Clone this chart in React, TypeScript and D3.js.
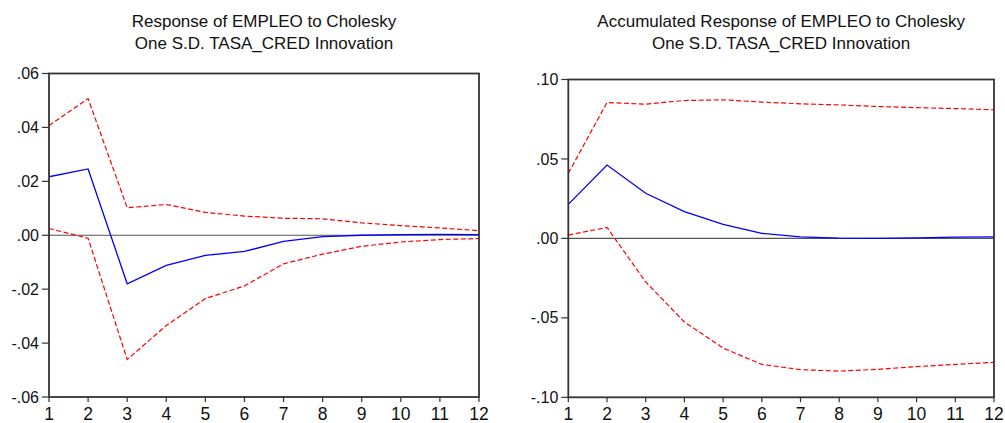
import React from 'react'
import * as d3 from 'd3'

// periods 1..12
const periods = [1, 2, 3, 4, 5, 6, 7, 8, 9, 10, 11, 12]

// Response of EMPLEO to TASA_CRED
const response = [0.0217, 0.0246, -0.018, -0.0112, -0.0075, -0.006, -0.0023, -0.0005, 0.0, 0.0002, 0.0003, 0.0002]
const responseUpper = [0.0407, 0.0507, 0.0102, 0.0114, 0.0085, 0.0071, 0.0063, 0.0061, 0.0046, 0.0036, 0.0027, 0.0017]
const responseLower = [0.0025, -0.0011, -0.0461, -0.0335, -0.0235, -0.0188, -0.0106, -0.007, -0.0041, -0.0025, -0.0016, -0.0012]

// Accumulated response
const accum = [0.0214, 0.0462, 0.0284, 0.0168, 0.0088, 0.0032, 0.001, 0.0002, 0.0, 0.0003, 0.0008, 0.001]
const accumUpper = [0.041, 0.0855, 0.0845, 0.0868, 0.0872, 0.0858, 0.0847, 0.084, 0.083, 0.0823, 0.0817, 0.0809]
const accumLower = [0.0021, 0.0069, -0.0274, -0.0526, -0.069, -0.0793, -0.0826, -0.0835, -0.0824, -0.0807, -0.0793, -0.078]

const leftTicks = [0.06, 0.04, 0.02, 0, -0.02, -0.04, -0.06]
const leftTickLabels = ['.06', '.04', '.02', '.00', '-.02', '-.04', '-.06']
const rightTicks = [0.1, 0.05, 0, -0.05, -0.1]
const rightTickLabels = ['.10', '.05', '.00', '-.05', '-.10']

const FONT = '"Liberation Sans", Arial, sans-serif'

type PanelProps = {
  title: string[]
  left: number
  right: number
  top: number
  bottom: number
  domain: [number, number]
  ticks: number[]
  tickLabels: string[]
  mid: number[]
  upper: number[]
  lower: number[]
}

function Panel({ title, left, right, top, bottom, domain, ticks, tickLabels, mid, upper, lower }: PanelProps) {
  const x = d3.scaleLinear().domain([1, 12]).range([left, right])
  const y = d3.scaleLinear().domain(domain).range([bottom, top])
  const line = (vals: number[]) =>
    d3.line<number>().x((_, i) => x(periods[i])).y((d) => y(d))(vals) || ''
  const cx = (left + right) / 2

  return (
    <g>
      <text x={cx} y={27} textAnchor="middle" fontSize={17} fontFamily={FONT} fill="#111">{title[0]}</text>
      <text x={cx} y={49} textAnchor="middle" fontSize={17} fontFamily={FONT} fill="#111">{title[1]}</text>

      <line x1={left} x2={right} y1={y(0)} y2={y(0)} stroke="#555" strokeWidth={1.2} />
      <path d={line(upper)} fill="none" stroke="#ff0000" strokeWidth={1.2} strokeDasharray="5,2.5" />
      <path d={line(lower)} fill="none" stroke="#ff0000" strokeWidth={1.2} strokeDasharray="5,2.5" />
      <path d={line(mid)} fill="none" stroke="#0000ff" strokeWidth={1.3} />

      <rect x={left} y={top} width={right - left} height={bottom - top} fill="none" stroke="#333" strokeWidth={1.8} />

      {ticks.map((t, i) => (
        <g key={'y' + i}>
          <line x1={left - 7} x2={left} y1={y(t)} y2={y(t)} stroke="#333" strokeWidth={1.2} />
          <text x={left - 10} y={y(t)} dy="0.35em" textAnchor="end" fontSize={16} fontFamily={FONT} fill="#111">{tickLabels[i]}</text>
        </g>
      ))}
      {periods.map((p) => (
        <g key={'x' + p}>
          <line x1={x(p)} x2={x(p)} y1={bottom} y2={bottom + 5} stroke="#333" strokeWidth={1.2} />
          <text x={x(p)} y={bottom + 23} textAnchor="middle" fontSize={17.5} fontFamily={FONT} fill="#111">{p}</text>
        </g>
      ))}
    </g>
  )
}

export default function App() {
  return (
    <svg width={1005} height={423} style={{ position: 'absolute', left: 0, top: 0, background: '#fff' }}>
      <rect width={1005} height={423} fill="#fff" />
      <Panel
        title={['Response of EMPLEO to Cholesky', 'One S.D. TASA_CRED Innovation']}
        left={49} right={479} top={73.5} bottom={397}
        domain={[-0.06, 0.06]}
        ticks={leftTicks} tickLabels={leftTickLabels}
        mid={response} upper={responseUpper} lower={responseLower}
      />
      <Panel
        title={['Accumulated Response of EMPLEO to Cholesky', 'One S.D. TASA_CRED Innovation']}
        left={568.3} right={994} top={79.5} bottom={397.3}
        domain={[-0.1, 0.1]}
        ticks={rightTicks} tickLabels={rightTickLabels}
        mid={accum} upper={accumUpper} lower={accumLower}
      />
    </svg>
  )
}
